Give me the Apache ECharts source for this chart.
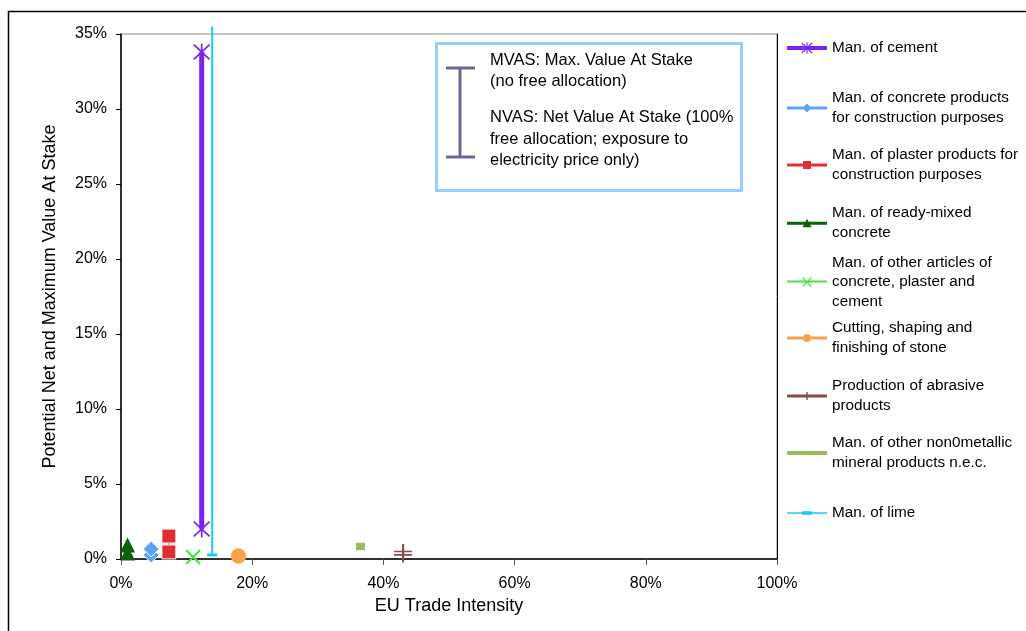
<!DOCTYPE html>
<html>
<head>
<meta charset="utf-8">
<script src="https://cdn.jsdelivr.net/npm/echarts@6/dist/echarts.min.js"></script>
<style>
html,body{margin:0;padding:0;background:#fff;}
#chart{width:1026px;height:631px;}
</style>
</head>
<body>
<div id="chart"></div>
<script>
// ---- data ----
const seriesNames = [
  "Man. of cement",
  "Man. of concrete products\nfor construction purposes",
  "Man. of plaster products for\nconstruction purposes",
  "Man. of ready-mixed\nconcrete",
  "Man. of other articles of\nconcrete, plaster and\ncement",
  "Cutting, shaping and\nfinishing of stone",
  "Production of abrasive\nproducts",
  "Man. of other non0metallic\nmineral products n.e.c.",
  "Man. of lime"
];
const tradeIntensity = [12.3, 4.6, 7.3, 1.0, 11.0, 17.9, 43.0, 36.5, 13.9]; // EU trade intensity, %
const nvas = [2.0, 0.27, 0.47, 0.4, 0.13, 0.2, 0.27, 0.72, 0.27];           // Net Value At Stake, %
const mvas = [33.8, 0.67, 1.53, 0.93, 0.13, 0.2, 0.5, 0.95, 35.5];          // Max Value At Stake, %
const xTicks = [0, 20, 40, 60, 80, 100];
const yTicks = [0, 5, 10, 15, 20, 25, 30, 35];
const boxLines = [
  "MVAS: Max. Value At Stake",
  "(no free allocation)",
  "NVAS: Net Value At Stake (100%",
  "free allocation; exposure to",
  "electricity price only)"
];

// ---- styles ----
const FONT = "'Liberation Sans', Arial, sans-serif";
const colors = ['#7B22F5', '#5FA3F5', '#DE2F36', '#0B620B', '#4FE04F', '#FAA24A', '#8A4B4B', '#9BBB59', '#1CC8F5'];
const lineWidths = [5, 2, 2, 2, 2, 2, 2, 3, 2];
const asterisk = 'path://M7.25 0L8.75 0L8.75 16L7.25 16Z M0.47 1.53L1.53 0.47L15.53 14.47L14.47 15.53Z M14.47 0.47L15.53 1.53L1.53 15.53L0.47 14.47Z';
const cross = 'path://M0 1.4L1.4 0L16 14.6L14.6 16Z M14.6 0L16 1.4L1.4 16L0 14.6Z';
const plus = 'path://M7.1 0L8.9 0L8.9 16L7.1 16Z M0 7.1L16 7.1L16 8.9L0 8.9Z';
const symbols = [asterisk, 'diamond', 'rect', 'triangle', cross, 'circle', plus, 'rect', 'rect'];
const symbolSizes = [17, 16, 14, 15, 15, 15, [18, 15], [9, 4], [10, 3]];
// legend icons: line sample with a small marker in the middle (40 x 12 box)
const legendIcons = [
  'path://M0 4H40V8H0Z M19.4 0.6H20.6V11.4H19.4Z M14.58 1.42L15.42 0.58L25.42 10.58L24.58 11.42Z M24.58 0.58L25.42 1.42L15.42 11.42L14.58 10.58Z',
  'path://M0 4.5H40V7.5H0Z M20 1.5L24.5 6L20 10.5L15.5 6Z',
  'path://M0 4.5H40V7.5H0Z M16 2H24V10H16Z',
  'path://M0 4.5H40V7.5H0Z M20 1.5L24.5 10L15.5 10Z',
  'path://M0 5H40V7H0Z M15.08 2.42L15.92 1.58L24.92 10.58L24.08 11.42Z M24.08 1.58L24.92 2.42L15.92 11.42L15.08 10.58Z',
  'path://M0 4.5H40V7.5H0Z M16 6A4 4 0 1 1 24 6A4 4 0 1 1 16 6Z',
  'path://M0 4.5H40V7.5H0Z M19.3 2H20.7V10H19.3Z',
  'path://M0 4H40V8H0Z',
  'path://M0 1H40V2.5H0Z M15 0H25V3.5H15Z'
];
const legendY = [48, 108, 165, 223, 282, 338, 396, 453, 513];
const LH = 19.5;
const Y_MAX = yTicks[yTicks.length - 1];

const series = seriesNames.map((name, i) => ({
  name: name,
  type: 'line',
  data: [[tradeIntensity[i], nvas[i]], [tradeIntensity[i], mvas[i]]].map(p =>
    p[1] > Y_MAX ? { value: p, symbol: 'none' } : p),
  symbol: symbols[i],
  symbolSize: symbolSizes[i],
  showSymbol: true,
  clip: false,
  lineStyle: { color: colors[i], width: lineWidths[i] },
  itemStyle: {
    color: colors[i],
    borderColor: (i === 1 || i === 2) ? '#ffffff' : colors[i],
    borderWidth: (i === 1 || i === 2) ? 1 : 0
  },
  emphasis: { disabled: true },
  animation: false,
  z: 3
}));

const legends = seriesNames.map((name, i) => {
  const n = name.split('\n').length;
  return {
    data: [{ name: name, icon: legendIcons[i], itemStyle: { color: colors[i], borderWidth: 0 } }],
    left: 787,
    top: legendY[i] - (2 * n - 1) * LH / 2,
    padding: 0,
    itemWidth: 40,
    itemHeight: 12,
    selectedMode: false,
    textStyle: {
      fontFamily: FONT, fontSize: 15.3, color: '#000',
      lineHeight: LH, padding: [(n - 1) * LH, 0, 0, 0]
    }
  };
});

const graphics = [
  { type: 'rect', shape: { x: 8.5, y: 11.5, width: 1040, height: 640 },
    style: { fill: 'none', stroke: '#000', lineWidth: 1.5 }, z: 0, silent: true },
  { type: 'rect', shape: { x: 436.5, y: 43.5, width: 305, height: 147 },
    style: { fill: '#fff', stroke: '#99CCFF', lineWidth: 3 }, z: 10 },
  { type: 'line', shape: { x1: 460, y1: 68, x2: 460, y2: 157 }, style: { stroke: '#666699', lineWidth: 3 }, z: 11 },
  { type: 'line', shape: { x1: 446, y1: 68, x2: 475, y2: 68 }, style: { stroke: '#666699', lineWidth: 3 }, z: 11 },
  { type: 'line', shape: { x1: 446, y1: 157, x2: 475, y2: 157 }, style: { stroke: '#666699', lineWidth: 3 }, z: 11 }
];
const boxY = [60, 81, 117, 139, 160];
boxLines.forEach((t, k) => {
  graphics.push({ type: 'text', x: 490, y: boxY[k], z: 11,
    style: { text: t, font: '16.5px ' + FONT, fill: '#000', textVerticalAlign: 'middle', verticalAlign: 'middle' } });
});

const chart = echarts.init(document.getElementById('chart'), null, { renderer: 'canvas' });
chart.setOption({
  animation: false,
  backgroundColor: '#fff',
  grid: { left: 121, top: 34, right: 249, bottom: 72, show: true, borderColor: '#888', borderWidth: 1, backgroundColor: 'transparent' },
  legend: legends,
  xAxis: {
    type: 'value', min: xTicks[0], max: xTicks[xTicks.length - 1], interval: 20,
    name: 'EU Trade Intensity', nameLocation: 'middle', nameGap: 38,
    nameTextStyle: { fontFamily: FONT, fontSize: 18, color: '#000' },
    axisLine: { lineStyle: { color: '#000', width: 1.5 } },
    axisTick: { show: true, inside: false, length: 6, lineStyle: { color: '#555' } },
    axisLabel: { fontFamily: FONT, fontSize: 16, color: '#000', margin: 17, formatter: v => v + '%' },
    splitLine: { show: false }
  },
  yAxis: [{
    type: 'value', min: yTicks[0], max: Y_MAX, interval: 5,
    name: 'Potential Net and Maximum Value At Stake', nameLocation: 'middle', nameGap: 62,
    nameTextStyle: { fontFamily: FONT, fontSize: 18, color: '#000' },
    axisLine: { show: true, lineStyle: { color: '#000', width: 1.5 } },
    axisTick: { show: true, inside: false, length: 5, lineStyle: { color: '#000' } },
    axisLabel: { fontFamily: FONT, fontSize: 16, color: '#000', margin: 14, formatter: v => v + '%' },
    splitLine: { show: false }
  }, {
    type: 'value', min: yTicks[0], max: Y_MAX, position: 'right',
    axisLine: { show: true, lineStyle: { color: '#000', width: 1 } },
    axisTick: { show: false }, axisLabel: { show: false }, splitLine: { show: false }
  }],
  series: series,
  graphic: graphics
});
</script>
</body>
</html>
